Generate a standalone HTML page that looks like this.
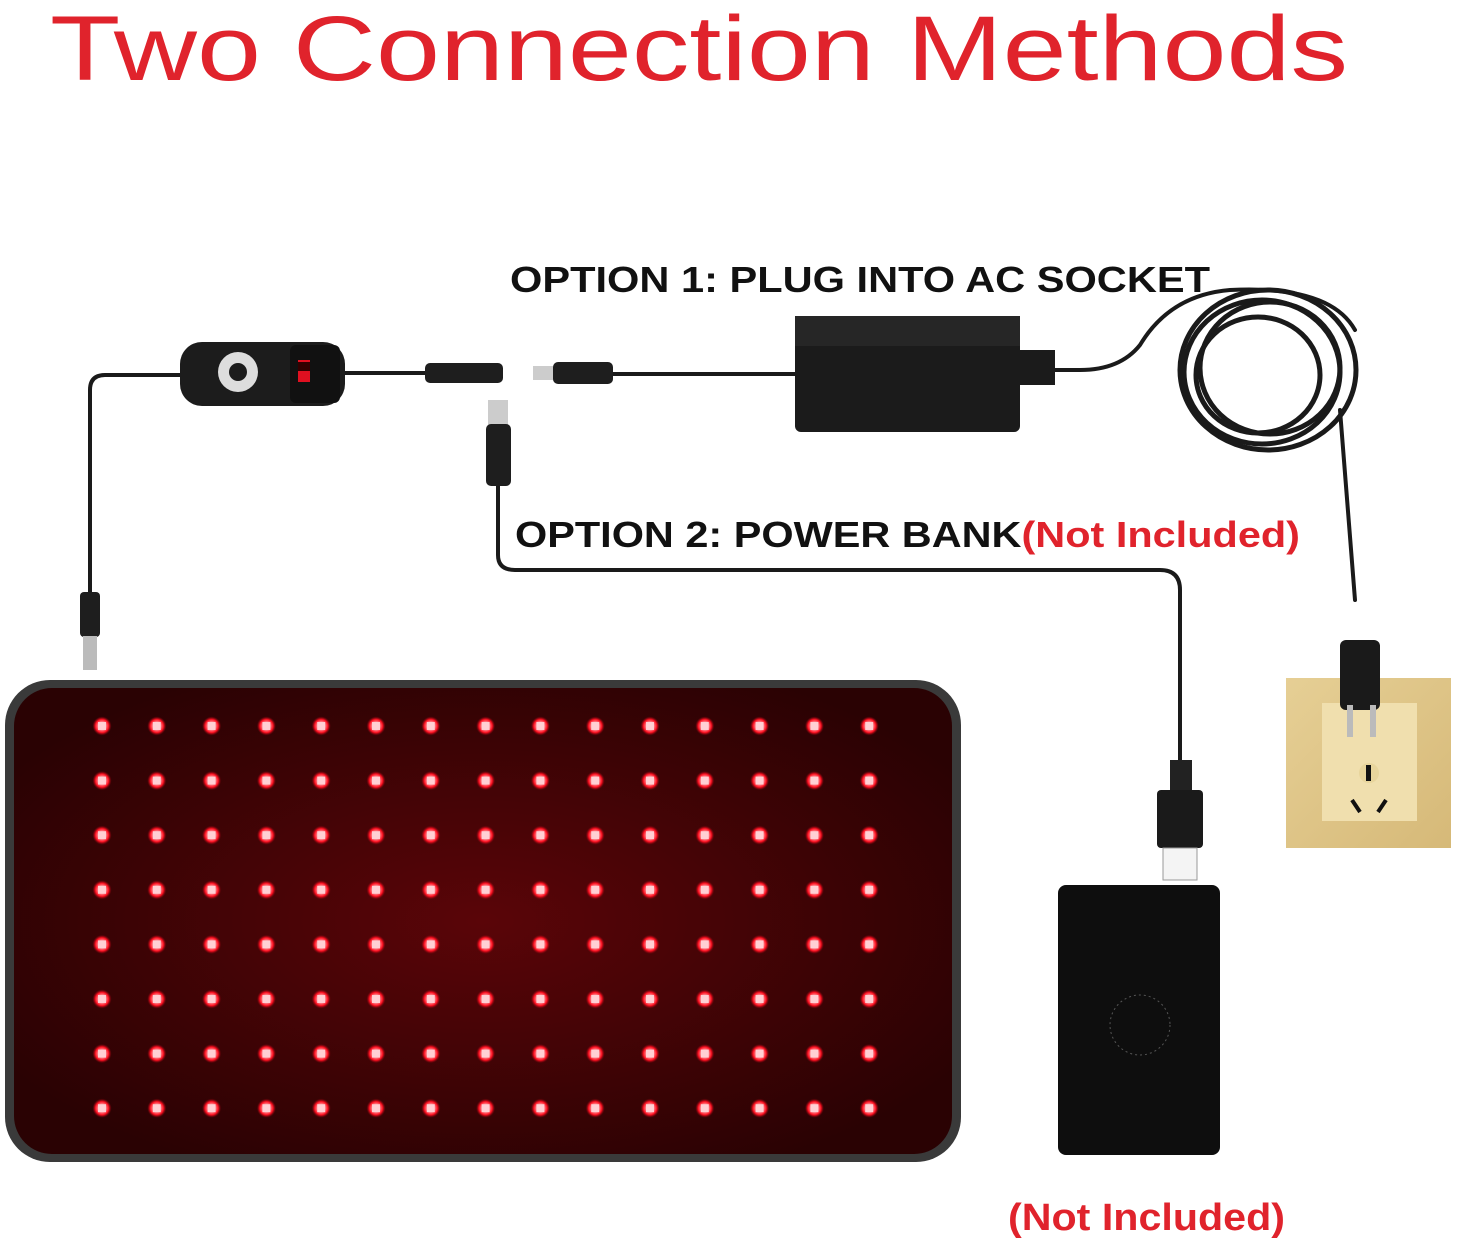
<!DOCTYPE html>
<html><head><style>body{margin:0;background:#fff}svg{display:block}</style></head><body>
<svg width="1457" height="1243" viewBox="0 0 1457 1243" xmlns="http://www.w3.org/2000/svg" font-family="Liberation Sans, sans-serif">
<defs>
<radialGradient id="pad" cx="50%" cy="50%" r="60%"><stop offset="0" stop-color="#5a0508"/><stop offset="1" stop-color="#2a0203"/></radialGradient>
<radialGradient id="led" cx="50%" cy="50%" r="50%"><stop offset="0" stop-color="#fff"/><stop offset="0.35" stop-color="#ff9aa0"/><stop offset="0.7" stop-color="#ff1020"/><stop offset="1" stop-color="#a00010" stop-opacity="0"/></radialGradient>
<pattern id="leds" patternUnits="userSpaceOnUse" x="74.6" y="698.7" width="54.8" height="54.6">
<circle cx="27.4" cy="27.3" r="9.5" fill="url(#led)"/>
<rect x="23.4" y="23.3" width="8" height="8" fill="#ffd0d4"/>
</pattern>
<linearGradient id="gold" x1="0" y1="0" x2="1" y2="1"><stop offset="0" stop-color="#e6cf95"/><stop offset="1" stop-color="#d6b978"/></linearGradient>
</defs>
<text x="50" y="80" font-size="92" fill="#e0232c" textLength="1298" lengthAdjust="spacingAndGlyphs">Two Connection Methods</text>

<g fill="none" stroke="#1a1a1a" stroke-width="4" stroke-linecap="round">
<path d="M185 375 L105 375 Q90 375 90 390 L90 600"/>
<path d="M345 373 L425 373"/>
<path d="M610 374 L795 374"/>
<path d="M1020 370 L1080 370 Q1120 370 1140 345 Q1170 295 1230 290 Q1330 285 1355 330"/>
<path d="M498 455 L498 555 Q498 570 515 570 L1160 570 Q1180 570 1180 590 L1180 765"/>
<path d="M1340 410 L1355 600"/>
</g>
<g fill="none" stroke="#1a1a1a" stroke-width="5">
<ellipse cx="1268" cy="370" rx="88" ry="80"/>
<ellipse cx="1262" cy="372" rx="78" ry="72"/>
<ellipse cx="1270" cy="368" rx="70" ry="66"/>
<ellipse cx="1258" cy="375" rx="62" ry="58"/>
</g>

<rect x="180" y="342" width="165" height="64" rx="22" fill="#1c1c1c"/>
<rect x="290" y="345" width="50" height="58" rx="6" fill="#111"/>
<rect x="298" y="360" width="12" height="22" fill="#e01020"/><rect x="298" y="362" width="12" height="9" fill="#300"/>
<circle cx="238" cy="372" r="20" fill="#ddd"/><circle cx="238" cy="372" r="9" fill="#1c1c1c"/>
<rect x="425" y="363" width="78" height="20" rx="5" fill="#1e1e1e"/>
<rect x="533" y="366" width="20" height="14" fill="#ccc"/>
<rect x="553" y="362" width="60" height="22" rx="5" fill="#1e1e1e"/>
<rect x="488" y="400" width="20" height="26" fill="#ccc"/>
<rect x="486" y="424" width="25" height="62" rx="5" fill="#1e1e1e"/>
<rect x="80" y="592" width="20" height="45" rx="4" fill="#1e1e1e"/>
<rect x="83" y="636" width="14" height="34" fill="#bbb"/>

<rect x="795" y="316" width="225" height="116" rx="6" fill="#1b1b1b"/>
<rect x="795" y="316" width="225" height="30" fill="#262626"/>
<rect x="1020" y="350" width="35" height="35" fill="#1b1b1b"/>

<text x="510" y="292" font-size="36" font-weight="bold" fill="#111" textLength="700" lengthAdjust="spacingAndGlyphs">OPTION 1: PLUG INTO AC SOCKET</text>
<text x="515" y="547" font-size="36" font-weight="bold" textLength="785" lengthAdjust="spacingAndGlyphs"><tspan fill="#111">OPTION 2: POWER BANK</tspan><tspan fill="#e0232c">(Not Included)</tspan></text>

<rect x="1286" y="678" width="165" height="170" fill="url(#gold)"/>
<rect x="1322" y="703" width="95" height="118" fill="#f0dfae"/>
<circle cx="1369" cy="773" r="10" fill="#e8d59c"/>
<rect x="1366" y="765" width="5" height="16" fill="#111"/>
<path d="M1352 800 L1360 812 M1386 800 L1378 812" stroke="#111" stroke-width="4"/>
<rect x="1340" y="640" width="40" height="70" rx="6" fill="#1a1a1a"/>
<rect x="1347" y="705" width="6" height="32" fill="#bbb"/><rect x="1370" y="705" width="6" height="32" fill="#bbb"/>

<rect x="1170" y="760" width="22" height="30" fill="#222"/>
<rect x="1157" y="790" width="46" height="58" rx="4" fill="#1a1a1a"/>
<rect x="1163" y="848" width="34" height="32" fill="#f4f4f4" stroke="#999"/>
<rect x="1058" y="885" width="162" height="270" rx="8" fill="#0e0e0e"/>
<circle cx="1140" cy="1025" r="30" fill="none" stroke="#555" stroke-dasharray="2 3"/>

<text x="1008" y="1230" font-size="38" font-weight="bold" fill="#e0232c" textLength="277" lengthAdjust="spacingAndGlyphs">(Not Included)</text>

<rect x="5" y="680" width="956" height="482" rx="45" fill="#3a3a3a"/>
<rect x="14" y="688" width="938" height="466" rx="38" fill="url(#pad)"/>
<rect x="74.6" y="698.7" width="822" height="437" fill="url(#leds)"/>
</svg>
</body></html>
